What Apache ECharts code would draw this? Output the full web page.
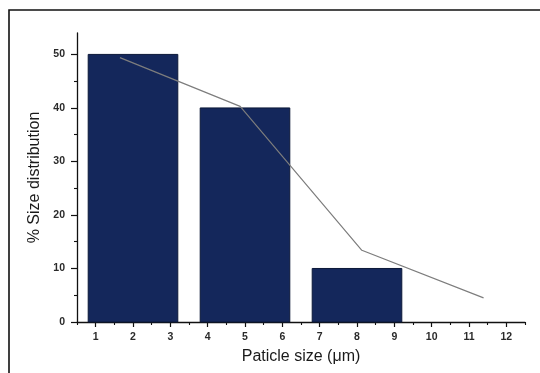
<!DOCTYPE html>
<html>
<head>
<meta charset="utf-8">
<script src="https://cdn.jsdelivr.net/npm/echarts@6/dist/echarts.min.js"></script>
<style>
  html, body { margin: 0; padding: 0; background: #ffffff; }
  #chart { width: 540px; height: 373px; }
</style>
</head>
<body>
<div id="chart"></div>
<script>
// Particle size histogram: bin centres (µm) and share of particles (%)
const binCentres = [2, 5, 8];
const binShare = [50, 40, 10];

// Smoothed distribution trace drawn over the bars
const traceSize = [1.65, 4.87, 8.13, 11.39];
const traceShare = [49.4, 40.3, 13.4, 4.5];

// Axis tick values
const xMajorTicks = [1, 2, 3, 4, 5, 6, 7, 8, 9, 10, 11, 12];
const xMinorTicks = [0.5, 1.5, 2.5, 3.5, 4.5, 5.5, 6.5, 7.5, 8.5, 9.5, 10.5, 11.5, 12.5];
const yMajorTicks = [0, 10, 20, 30, 40, 50];
const yMinorTicks = [5, 15, 25, 35, 45];

const BIN_HALF_WIDTH = 1.2;
const X_MIN = 0.5, X_MAX = 12.5, Y_MIN = 0, Y_MAX = 54;

const chart = echarts.init(document.getElementById('chart'), null, { renderer: 'canvas' });

const labelFont = { fontFamily: 'Liberation Sans, Arial, sans-serif', fontSize: 10.5, fontWeight: 'bold', color: '#2a2a2a' };
const nameFont = { fontFamily: 'Liberation Sans, Arial, sans-serif', fontSize: 16, color: '#1a1a1a' };

const option = {
  backgroundColor: '#ffffff',
  animation: false,
  graphic: [{
    type: 'polyline',
    shape: { points: [[9, 400], [9, 10], [560, 10]] },
    style: { stroke: '#111111', lineWidth: 1.6, fill: null },
    z: 100
  }],
  grid: { left: 77, right: 15, top: 33, bottom: 51, containLabel: false },
  xAxis: [{
    type: 'value',
    min: X_MIN, max: X_MAX,
    name: 'Paticle size (μm)',
    nameLocation: 'middle',
    nameGap: 27,
    nameTextStyle: nameFont,
    axisLine: { show: true, onZero: false, lineStyle: { color: '#111111', width: 1.3 } },
    axisTick: { show: true, inside: false, length: 5, customValues: xMajorTicks, lineStyle: { color: '#111111', width: 1.2 } },
    axisLabel: { show: true, margin: 10, customValues: xMajorTicks, ...labelFont },
    splitLine: { show: false }
  }, {
    type: 'value',
    min: X_MIN, max: X_MAX,
    position: 'bottom',
    offset: 0,
    axisLine: { show: false },
    axisTick: { show: true, inside: false, length: 3, customValues: xMinorTicks, lineStyle: { color: '#111111', width: 1.1 } },
    axisLabel: { show: false },
    splitLine: { show: false }
  }],
  yAxis: [{
    type: 'value',
    min: Y_MIN, max: Y_MAX,
    name: '% Size distribution',
    nameLocation: 'middle',
    nameGap: 28,
    nameTextStyle: nameFont,
    axisLine: { show: true, onZero: false, lineStyle: { color: '#111111', width: 1.3 } },
    axisTick: { show: true, inside: false, length: 6, customValues: yMajorTicks, lineStyle: { color: '#111111', width: 1.2 } },
    axisLabel: { show: true, margin: 12, customValues: yMajorTicks, ...labelFont },
    splitLine: { show: false }
  }, {
    type: 'value',
    min: Y_MIN, max: Y_MAX,
    position: 'left',
    offset: 0,
    axisLine: { show: false },
    axisTick: { show: true, inside: false, length: 3, customValues: yMinorTicks, lineStyle: { color: '#111111', width: 1.1 } },
    axisLabel: { show: false },
    splitLine: { show: false }
  }],
  series: [{
    type: 'custom',
    name: 'share',
    xAxisIndex: 0,
    yAxisIndex: 0,
    data: binCentres.map((c, i) => [c, binShare[i]]),
    encode: { x: 0, y: 1 },
    renderItem: function (params, api) {
      const c = api.value(0);
      const h = api.value(1);
      const topLeft = api.coord([c - BIN_HALF_WIDTH, h]);
      const bottomRight = api.coord([c + BIN_HALF_WIDTH, 0]);
      return {
        type: 'rect',
        shape: {
          x: topLeft[0],
          y: topLeft[1],
          width: bottomRight[0] - topLeft[0],
          height: bottomRight[1] - topLeft[1]
        },
        style: { fill: '#14275b', stroke: '#0b1838', lineWidth: 1 }
      };
    },
    z: 2
  }, {
    type: 'line',
    name: 'trace',
    xAxisIndex: 0,
    yAxisIndex: 0,
    data: traceSize.map((s, i) => [s, traceShare[i]]),
    showSymbol: false,
    symbol: 'none',
    lineStyle: { color: '#7d7d7d', width: 1.2 },
    z: 3
  }]
};

chart.setOption(option);
</script>
</body>
</html>
